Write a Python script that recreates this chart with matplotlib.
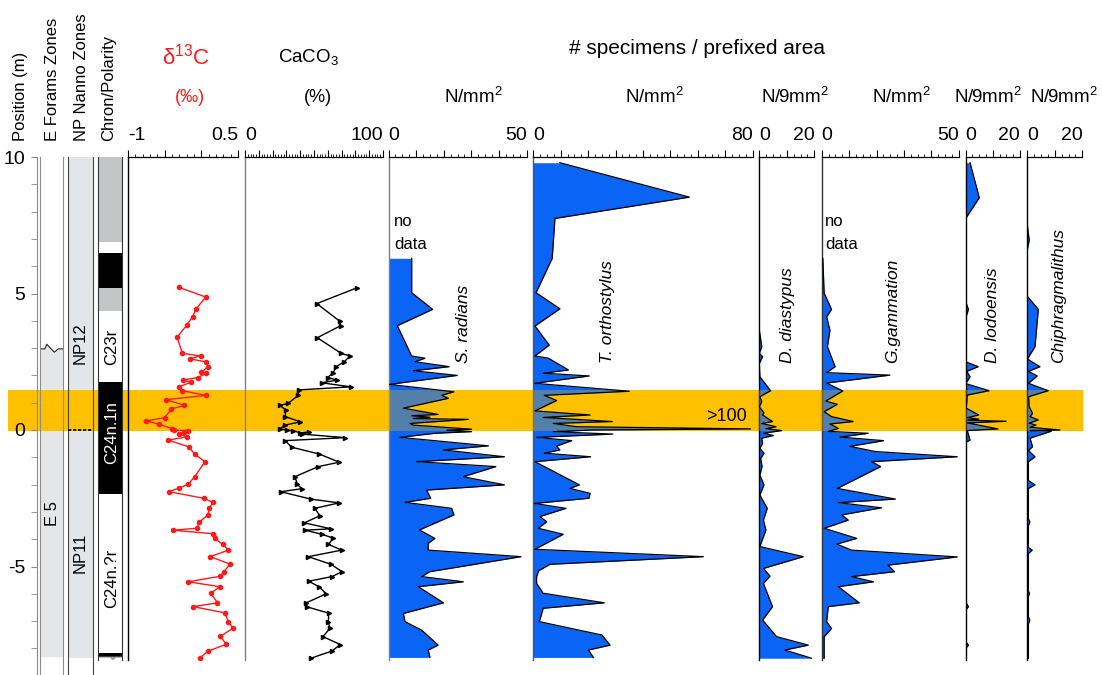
import numpy as np
import matplotlib
matplotlib.use('Agg')
import matplotlib.pyplot as plt
from matplotlib.ticker import FixedLocator

plt.rcParams['font.family'] = ['Liberation Sans', 'DejaVu Sans']
plt.rcParams['mathtext.fontset'] = 'custom'
plt.rcParams['mathtext.rm'] = 'Liberation Sans'
plt.rcParams['mathtext.it'] = 'Liberation Sans:italic'
plt.rcParams['mathtext.default'] = 'regular'
plt.rcParams['axes.unicode_minus'] = False

# ---------------- data ----------------
band = (-0.02, 1.47)

pos_ticks = [-5, 0, 5, 10]
pos_labels = ['-5', '0', '5', '10']

eforam_boundary = 2.97
eforam_base = -8.3
eforam_label, eforam_label_depth = 'E 5', -3.05

np_boundary = 0.0
np_base = -8.35
np_labels = ['NP12', 'NP11']
np_label_depth = [3.2, -4.5]

chron_top = [10.0, 6.9, 6.5, 5.2, 4.35, 1.75, -2.35, -8.18]
chron_bot = [6.9, 6.5, 5.2, 4.35, 1.75, -2.35, -8.18, -8.30]
chron_color = ['#c3c5c7', 'white', 'black', '#c3c5c7', 'white', 'black', 'white', 'black']
chron_labels = ['C23r', 'C24n.1n', 'C24n.?r']
chron_label_depth = [3.05, -0.1, -5.45]
chron_label_color = ['black', 'white', 'black']

d13c_depth = [5.23, 4.87, 4.44, 4.15, 3.84, 3.40, 2.81, 2.71, 2.61, 2.49, 2.32, 2.11, 2.08, 1.92,
              1.83, 1.75, 1.59, 1.44, 1.27, 1.11, 0.90, 0.77, 0.45, 0.33, 0.22, 0.05, -0.01, -0.02,
              -0.07, -0.15, -0.25, -0.37, -0.62, -0.89, -1.16, -1.71, -1.99, -2.12, -2.26, -2.50,
              -2.65, -2.85, -3.11, -3.38, -3.60, -3.67, -3.80, -3.96, -4.19, -4.40, -4.64, -4.91,
              -5.19, -5.36, -5.56, -5.74, -5.98, -6.33, -6.47, -6.70, -7.03, -7.26, -7.56, -7.85,
              -8.10, -8.35]
d13c_val = [-0.31, 0.06, -0.07, -0.12, -0.20, -0.33, -0.26, -0.01, -0.16, 0.07, 0.09, 0.00, 0.07,
            -0.05, -0.25, -0.14, -0.30, -0.26, 0.06, -0.48, -0.23, -0.41, -0.50, -0.75, -0.58,
            -0.40, -0.37, -0.18, -0.23, -0.30, -0.19, -0.45, -0.17, -0.09, 0.05, -0.09, -0.18,
            -0.30, -0.44, 0.03, 0.16, 0.11, 0.09, -0.03, -0.06, -0.39, 0.16, 0.18, 0.29, 0.37,
            0.12, 0.39, 0.31, 0.25, -0.18, 0.25, 0.13, 0.22, -0.11, 0.32, 0.37, 0.43, 0.26, 0.34,
            0.09, -0.02]

caco3_depth = [5.21, 4.63, 3.98, 3.82, 3.38, 2.81, 2.71, 2.49, 2.32, 2.10, 1.92, 1.83, 1.73, 1.58,
               1.47, 1.27, 0.98, 0.90, 0.73, 0.49, 0.30, 0.18, 0.05, -0.01, -0.03, -0.10, -0.07,
               -0.15, -0.28, -0.39, -0.63, -0.88, -1.18, -1.34, -1.71, -1.99, -2.15, -2.26, -2.53,
               -2.67, -2.87, -3.14, -3.40, -3.62, -3.67, -3.82, -3.96, -4.19, -4.40, -4.64, -4.92,
               -5.19, -5.37, -5.54, -5.74, -6.00, -6.34, -6.48, -6.71, -7.04, -7.26, -7.57, -7.86,
               -8.10, -8.36]
caco3_val = [81.2, 52.0, 68.8, 69.3, 52.4, 69.6, 76.1, 71.7, 65.9, 64.0, 59.9, 66.9, 55.6, 76.6,
             39.1, 38.6, 31.4, 25.4, 29.5, 29.2, 40.1, 29.0, 25.4, 30.2, 35.0, 39.9, 46.4, 41.1,
             72.7, 29.0, 33.8, 53.8, 68.3, 53.1, 36.2, 37.9, 41.3, 25.9, 47.6, 68.1, 50.5, 54.3,
             43.0, 62.3, 43.7, 55.6, 64.0, 60.4, 70.1, 45.9, 62.3, 70.3, 63.0, 46.2, 53.6, 58.9,
             44.0, 45.1, 60.7, 60.4, 61.6, 56.5, 69.1, 62.8, 47.8]

srad_depth = [6.29, 5.03, 4.42, 3.82, 2.71, 2.63, 2.50, 2.32, 2.17, 2.00, 1.67, 1.40, 1.27, 1.16,
              0.80, 0.57, 0.52, 0.47, 0.42, 0.39, 0.24, 0.18, 0.10, 0.03, -0.01, -0.06, -0.12,
              -0.27, -0.58, -0.73, -0.98, -1.16, -1.34, -1.71, -2.01, -2.20, -2.50, -2.65, -2.87,
              -3.11, -3.66, -3.97, -4.15, -4.40, -4.64, -5.19, -5.37, -5.56, -5.74, -6.33, -6.72,
              -7.02, -7.33, -7.88, -8.06, -8.33]
srad_val = [8.4, 8.4, 16.0, 3.2, 8.4, 13.2, 9.6, 22.0, 9.0, 24.9, 0.3, 23.7, 19.3, 21.7, 5.4, 18.0,
            8.4, 15.0, 9.0, 28.9, 7.8, 9.0, 20.0, 30.1, 21.1, 30.1, 16.8, 4.2, 36.2, 19.9, 42.0,
            10.2, 38.9, 27.1, 42.0, 13.8, 15.3, 6.0, 22.9, 23.7, 11.2, 16.8, 14.4, 14.4, 48.0,
            15.0, 12.0, 27.1, 10.8, 19.9, 5.4, 6.0, 12.0, 18.0, 14.4, 15.0]

torth_depth = [9.79, 8.53, 7.75, 6.29, 5.03, 4.44, 3.81, 3.11, 2.71, 2.63, 2.20, 2.08, 1.98, 1.71,
               1.42, 1.27, 1.08, 0.70, 0.55, 0.46, 0.31, 0.24, 0.12, 0.04, 0.00, -0.06, -0.15,
               -0.27, -0.39, -0.59, -0.73, -0.85, -0.98, -1.16, -2.01, -2.14, -2.32, -2.50, -2.69,
               -2.87, -3.17, -3.36, -3.60, -3.82, -4.37, -4.64, -4.92, -5.15, -5.37, -5.62, -5.98,
               -6.33, -6.53, -7.02, -7.51, -7.88, -8.06, -8.33]
torth_val = [9.7, 56.9, 7.9, 6.9, 1.0, 9.7, 0.6, 5.8, 0.6, 5.5, 12.8, 3.6, 20.4, 0.5, 35.0, 4.0,
             8.5, 0.6, 20.7, 3.6, 28.8, 7.3, 15.8, 100.0, 21.9, 7.3, 29.0, 1.2, 14.0, 8.5, 9.7,
             4.0, 20.9, 0.6, 16.8, 13.4, 20.7, 20.3, 0.4, 11.9, 2.4, 4.9, 1.8, 10.9, 0.6, 62.0,
             6.1, 2.0, 1.2, 1.2, 3.6, 25.9, 3.6, 2.2, 25.0, 28.0, 20.1, 21.9]

ddia_depth = [3.66, 3.05, 2.81, 2.69, 2.44, 1.95, 1.44, 1.22, 1.04, 0.85, 0.63, 0.55, 0.45, 0.31,
              0.24, 0.12, 0.05, -0.02, -0.12, -0.20, -0.30, -0.49, -0.67, -0.85, -1.04, -1.34,
              -1.65, -2.01, -2.38, -2.87, -3.30, -3.66, -4.27, -4.64, -5.07, -5.35, -5.62, -6.47,
              -6.96, -7.57, -7.88, -8.06, -8.36]
ddia_val = [0.0, 0.9, 0.0, 1.2, 0.0, 0.2, 4.1, 0.2, 0.9, 0.0, 1.7, 1.2, 2.7, 4.8, 0.9, 6.1, 2.4,
            8.1, 1.5, 5.1, 0.9, 1.2, 0.2, 1.7, 0.5, 1.0, 0.2, 1.7, 0.2, 2.9, 1.5, 2.4, 0.2, 16.0,
            1.5, 3.9, 1.5, 4.8, 1.2, 6.3, 17.8, 9.3, 19.0]

ggam_depth = [6.29, 5.01, 4.42, 4.15, 3.66, 3.05, 2.32, 2.10, 2.01, 1.72, 1.43, 1.06, 0.94, 0.67,
              0.49, 0.31, 0.22, 0.06, -0.05, -0.12, -0.26, -0.39, -0.60, -0.79, -0.98, -1.16,
              -1.34, -2.14, -2.53, -2.66, -2.85, -3.11, -3.30, -3.60, -3.97, -4.18, -4.40, -4.65,
              -4.95, -5.19, -5.37, -5.56, -5.74, -6.33, -6.47, -7.02, -7.27, -7.57, -8.36]
ggam_val = [0.4, 0.9, 3.6, 1.8, 3.0, 2.1, 4.9, 1.8, 24.9, 1.8, 7.7, 1.5, 5.7, 0.9, 3.6, 11.5, 3.0,
            6.1, 2.4, 17.0, 6.7, 22.6, 10.3, 19.6, 50.0, 18.2, 21.5, 5.7, 26.9, 6.1, 21.8, 7.3,
            9.7, 0.9, 12.8, 5.5, 10.9, 50.0, 24.2, 26.6, 10.9, 18.9, 6.1, 13.7, 2.4, 1.8, 3.6,
            0.9, 0.9]

dlod_depth = [9.79, 8.51, 7.75, 4.70, 4.42, 4.10, 2.50, 2.32, 2.15, 1.95, 1.70, 1.44, 1.28, 0.80,
              0.55, 0.45, 0.40, 0.36, 0.32, 0.26, 0.04, -0.02, -0.37, -0.45, -6.30, -6.47, -6.60,
              -7.75, -7.88, -8.00, -8.36]
dlod_val = [1.6, 5.0, 0.0, 0.0, 1.0, 0.0, 0.0, 4.6, 0.4, 1.6, 0.0, 8.6, 0.6, 0.2, 4.8, 0.6, 4.8,
            0.8, 14.9, 0.6, 11.9, 0.6, 1.6, 0.0, 0.0, 1.0, 0.0, 0.0, 1.0, 0.0, 0.0]

chip_depth = [7.50, 6.96, 6.60, 4.90, 4.42, 3.05, 2.60, 2.32, 2.15, 1.98, 1.71, 1.44, 1.22, 0.85,
              0.61, 0.49, 0.37, 0.25, 0.18, 0.10, 0.00, -0.02, -0.04, -0.30, -0.61, -0.75, -0.98,
              -1.16, -1.85, -2.01, -2.14, -3.25, -3.36, -3.50, -4.30, -4.40, -4.52, -5.90, -5.98,
              -6.10, -6.85, -6.96, -7.10, -8.36]
chip_val = [0.0, 0.7, 0.0, 0.0, 4.0, 2.8, 0.0, 4.6, 0.4, 3.6, 0.4, 7.6, 0.5, 0.7, 1.9, 1.0, 4.0,
            0.7, 3.2, 1.0, 11.9, 1.0, 8.8, 1.0, 1.9, 0.4, 2.8, 0.4, 0.4, 2.8, 0.4, 0.4, 0.9, 0.4,
            0.4, 1.8, 0.4, 0.4, 0.8, 0.4, 0.4, 0.9, 0.4, 0.4]

species_names = ['S. radians', 'T. orthostylus', 'D. diastypus', 'G.gammation', 'D. lodoensis',
                 'Chiphragmalithus']
species_units = ['N/mm$^2$', 'N/mm$^2$', 'N/9mm$^2$', 'N/mm$^2$', 'N/9mm$^2$', 'N/9mm$^2$']

# ---------------- style / layout ----------------
W, H = 1102, 675
BLUE = '#0a64f5'
ORANGE = '#ffc000'
RED = '#ff1a1a'
PX0, PXM, TOP = 430.0, 27.3, 10.0

fig = plt.figure(figsize=(W / 100, H / 100), dpi=100)


def fig_ax(x0, x1, ybot_px):
    ytop = PX0 - TOP * PXM
    ax = fig.add_axes([x0 / W, 1 - ybot_px / H, (x1 - x0) / W, (ybot_px - ytop) / H])
    ax.set_ylim((PX0 - ybot_px) / PXM, TOP)
    ax.patch.set_visible(False)
    for s in ax.spines.values():
        s.set_visible(False)
    ax.set_xticks([])
    ax.set_yticks([])
    return ax


def ftext(x, y, s, **kw):
    fig.text(x / W, 1 - y / H, s, **kw)


# background band
axb = fig_ax(8, 1083, 675)
axb.set_xlim(0, 1)
axb.axhspan(band[0], band[1], color=ORANGE, lw=0)

# position axis
axp = fig_ax(36.5, 37.5, 675)
axp.spines['left'].set_visible(True)
axp.spines['left'].set_color('#8a8a8a')
axp.set_yticks(pos_ticks)
axp.set_yticklabels(pos_labels)
axp.yaxis.set_minor_locator(FixedLocator(np.arange(-8, 10.1, 1)))
axp.tick_params(axis='y', which='both', length=4, color='#8a8a8a', labelsize=14, pad=4)

# E forams column
axe = fig_ax(39.5, 63, 675)
axe.set_xlim(0, 1)
for s in ['left', 'right']:
    axe.spines[s].set_visible(True)
    axe.spines[s].set_color('#8c8c8c')
zx = [0, 0.23, 0.31, 0.63, 0.80, 1]
zy = [eforam_boundary + o for o in [0, 0, 0.17, -0.12, 0, 0]]
axe.fill_between(zx, eforam_base, zy, color='#e4e6e8', lw=0, zorder=1)
axe.plot(zx, zy, color='#222222', lw=0.8, zorder=1.5)
axe.axhspan(band[0], band[1], color=ORANGE, lw=0, zorder=2)
axe.text(0.55, eforam_label_depth, eforam_label, rotation=90, ha='center', va='center', fontsize=12)

# NP column
axn = fig_ax(68, 93, 675)
axn.set_xlim(0, 1)
for s in ['left', 'right']:
    axn.spines[s].set_visible(True)
    axn.spines[s].set_color('#444444')
axn.fill_between([0, 1], np_base, TOP, color='#e3e6e8', lw=0, zorder=1)
axn.axhspan(band[0], band[1], color=ORANGE, lw=0, zorder=2)
axn.axhline(np_boundary, color='k', lw=1.2, ls=(0, (2, 1)), zorder=3)
for lab, d in zip(np_labels, np_label_depth):
    axn.text(0.5, d, lab, rotation=90, ha='center', va='center', fontsize=12)

# Chron column
axc = fig_ax(98, 122, 660)
axc.set_xlim(0, 1)
for s in ['left', 'right']:
    axc.spines[s].set_visible(True)
    axc.spines[s].set_color('#333333')
for t, b, c in zip(chron_top, chron_bot, chron_color):
    axc.fill_between([0, 1], b, t, color=c, lw=0, zorder=1)
axc.fill([0, 1, 1, 0.75, 0.62, 0.5, 0], [-8.30, -8.30, -8.34, -8.34, -8.45, -8.34, -8.34],
         color='#a0a0a0', lw=0, zorder=1)
for lab, d, c in zip(chron_labels, chron_label_depth, chron_label_color):
    axc.text(0.55, d, lab, rotation=90, ha='center', va='center', fontsize=12, color=c)


def data_panel(x0, xv, x1, vmin, vmax, major, minor, lcolor, labels):
    ax = fig_ax(x0, x1, 660)
    ax.set_xlim(vmin, vmin + (x1 - x0) * (vmax - vmin) / (xv - x0))
    ax.spines['left'].set_visible(True)
    ax.spines['left'].set_color(lcolor)
    ax.spines['left'].set_linewidth(1.0)
    ax.spines['top'].set_visible(True)
    ax.spines['top'].set_bounds(vmin, vmax)
    ax.spines['top'].set_linewidth(0.9)
    ax.xaxis.set_ticks_position('top')
    ax.xaxis.set_major_locator(FixedLocator(np.arange(vmin, vmax + 1e-9, major)))
    ax.xaxis.set_minor_locator(FixedLocator(np.arange(vmin, vmax + 1e-9, minor)))
    ax.tick_params(axis='x', which='major', length=5, width=0.8, direction='out',
                   labeltop=False, labelbottom=False)
    ax.tick_params(axis='x', which='minor', length=2.5, width=0.6, direction='out')
    yl = 1 + 22 / (660 - 157)
    ax.text(vmin, yl, labels[0], transform=ax.get_xaxis_transform(), ha='left', va='center',
            fontsize=14)
    ax.text(vmax, yl, labels[1], transform=ax.get_xaxis_transform(), ha='right', va='center',
            fontsize=14)
    return ax


# d13C
ax1 = data_panel(128, 238, 245, -1, 0.5, 0.5, 0.1, 'black', ['-1', '0.5'])
ax1.plot(d13c_val, d13c_depth, color=RED, lw=1.0, marker='o', ms=3.0, zorder=4)

# CaCO3
ax2 = data_panel(245, 383, 388.5, 0, 100, 10, 2, '#808080', ['0', '100'])
ax2.plot(caco3_val, caco3_depth, color='black', lw=1.0, marker='>', ms=3.0, zorder=4)


def profile(ax, depth, val, cap):
    d = np.asarray(depth, float)
    v = np.minimum(np.asarray(val, float), cap)
    ax.fill_betweenx(d, 0, v, color=BLUE, lw=0, zorder=2)
    ax.axhspan(band[0], band[1], color=ORANGE, alpha=0.3, lw=0, zorder=3)
    ax.plot(v, d, color='black', lw=0.9, zorder=4)


panels = [
    (388.5, 526.5, 533.3, 50, '#808080', srad_depth, srad_val),
    (533.3, 752.7, 759.3, 80, '#555555', torth_depth, torth_val),
    (759.3, 814.3, 821.7, 20, 'black', ddia_depth, ddia_val),
    (821.7, 958.7, 965.7, 50, '#333333', ggam_depth, ggam_val),
    (965.7, 1020.0, 1027.3, 20, 'black', dlod_depth, dlod_val),
    (1027.3, 1082.3, 1084.0, 20, 'black', chip_depth, chip_val),
]
label_x = [27, 26.9, 10.1, 26, 9.7, 11.2]
unit_x = [473, 654, 795, 901, 988, 1064]
axes_sp = []
for (x0, xv, x1, vmax, lc, dd, vv), nm, lx, un, ux in zip(panels, species_names, label_x,
                                                         species_units, unit_x):
    ax = data_panel(x0, xv, x1, 0, vmax, 10, 2.5, lc, ['0', str(vmax)])
    profile(ax, dd, vv, vmax * 0.99)
    ax.text(lx, 2.45, nm, rotation=90, ha='center', va='bottom', fontsize=12.5, style='italic')
    ftext(ux, 97, un, ha='center', va='center', fontsize=13.5)
    axes_sp.append(ax)

for ax, xv in [(axes_sp[0], 2.0), (axes_sp[3], 1.2)]:
    ax.text(xv, 7.62, 'no', ha='left', va='center', fontsize=12)
    ax.text(xv, 6.81, 'data', ha='left', va='center', fontsize=12)
axes_sp[1].text(77.9, 0.48, '>100', ha='right', va='center', fontsize=13, zorder=5)

# headers
for s, x in [('Position (m)', 21), ('E Forams Zones', 52.5), ('NP Nanno Zones', 82),
             ('Chron/Polarity', 109)]:
    ftext(x, 141, s, rotation=90, ha='center', va='bottom', fontsize=12)
ftext(186, 57, 'δ$^{13}$C', color=RED, ha='center', va='center', fontsize=16)
ftext(190, 97, '(‰)', color=RED, ha='center', va='center', fontsize=13)
ftext(308, 57, 'CaCO$_3$', ha='center', va='center', fontsize=13.5)
ftext(318, 97, '(%)', ha='center', va='center', fontsize=13)
ftext(697, 48, '# specimens / prefixed area', ha='center', va='center', fontsize=15)

fig.savefig('out.png', dpi=100)
